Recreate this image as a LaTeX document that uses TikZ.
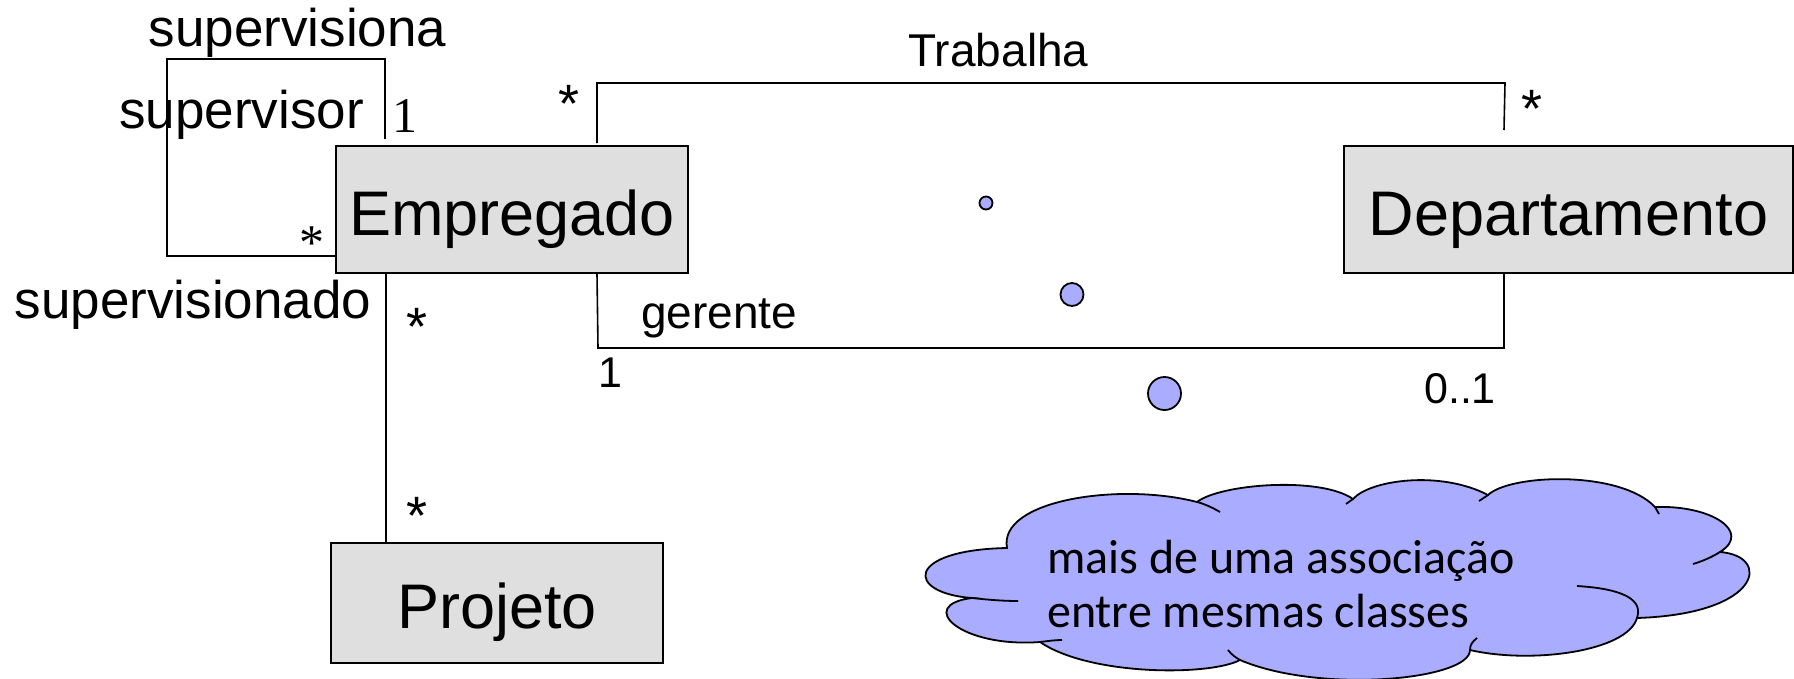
\documentclass[tikz,border=0pt]{standalone}
\usepackage{fontspec}
\setmainfont{Liberation Sans}
\newfontfamily\timesfont{Liberation Serif}
\newfontfamily\calibrifont{Carlito}
\definecolor{boxgray}{RGB}{223,223,223}
\definecolor{bubble}{RGB}{170,172,255}

\begin{document}
\begin{tikzpicture}[x=1pt,y=-1pt,
    classbox/.style={draw, line width=2pt, fill=boxgray, inner sep=0pt,
      font=\fontsize{63}{70}\selectfont},
    role/.style={inner sep=0pt, anchor=base, font=\fontsize{53}{60}\selectfont},
    assoc/.style={inner sep=0pt, anchor=base, font=\fontsize{46}{52}\selectfont},
    mult/.style={inner sep=0pt, anchor=base, font=\fontsize{43}{50}\selectfont},
    star/.style={inner sep=0pt, anchor=north, font=\fontsize{54}{60}\selectfont},
    serifmult/.style={inner sep=0pt, font=\timesfont\fontsize{50}{56}\selectfont},
    link/.style={line width=1.6pt},
    bubbleline/.style={line width=1.8pt}]
    \useasboundingbox (0,0) rectangle (1794,678);

    % classes
    \node[classbox, minimum width=352pt, text height=89pt, text depth=38pt] (emp) at (512,209.5) {Empregado};
    \node[classbox, minimum width=449pt, text height=89pt, text depth=38pt] (dep) at (1568.5,209.5) {Departamento};
    \node[classbox, minimum width=332pt, text height=85pt, text depth=35pt] (proj) at (497,603) {Projeto};

    % supervisao (auto-associacao)
    \coordinate (loopcorner) at (167,59);
    \draw[link] ([xshift=50pt,yshift=6pt]emp.north west) |- (loopcorner)
      |- ([yshift=18pt]emp.south west);
    \node[role] (supna) at (297.5,46) {supervisiona};
    \node[role] (supor) at (241.5,128) {supervisor};
    \node[role] (supdo) at (193,318) {supervisionado};
    \node[serifmult, anchor=base] (supone) at (405,132) {1};
    \node[serifmult, anchor=north] (supmany) at (312,227) {*};

    % trabalha
    \coordinate (trabcorner) at (1505,83);
    \draw[link] ([xshift=262pt,yshift=2pt]emp.north west) |- (trabcorner)
      -- ([xshift=161pt,yshift=15pt]dep.north west);
    \node[assoc] (trab) at (998.5,66) {Trabalha};
    \node[star] (trabemp) at (569,85) {*};
    \node[star] (trabdep) at (1532,90) {*};

    % gerente
    \coordinate (gercorner) at (598,348);
    \draw[link] ([xshift=262pt]emp.south west) -- (gercorner)
      -| ([xshift=161pt]dep.south west);
    \node[assoc] (ger) at (719,328) {gerente};
    \node[mult] (gerone) at (610,387) {1};
    \node[mult] (gerdep) at (1460,403) {0..1};

    % projeto
    \draw[link] ([xshift=51pt,yshift=2pt]emp.south west) -- ([xshift=56pt]proj.north west);
    \node[star] (projemp) at (417,308) {*};
    \node[star] (projproj) at (417,497) {*};

    % bolhas
    \filldraw[bubbleline, fill=bubble] (986,203) circle (6.5);
    \filldraw[bubbleline, fill=bubble] (1072,294.5) circle (11.5);
    \filldraw[bubbleline, fill=bubble] (1164.5,393.5) circle (16.5);

    % nuvem
    \filldraw[bubbleline, fill=bubble] (1007,548)
      .. controls (998,500) and (1120,482) .. (1197,502)
      .. controls (1220,484) and (1320,476) .. (1353,499)
      .. controls (1370,480) and (1440,470) .. (1488,495)
      .. controls (1510,474) and (1620,470) .. (1655,507)
      .. controls (1712,505) and (1752,532) .. (1720,552)
      .. controls (1772,556) and (1762,614) .. (1637,618)
      .. controls (1627,652) and (1530,664) .. (1470,650)
      .. controls (1470,680) and (1320,694) .. (1240,660)
      .. controls (1210,676) and (1090,676) .. (1040,642)
      .. controls (960,648) and (915,605) .. (972,598)
      .. controls (905,593) and (905,550) .. (1007,548) -- cycle;
    \draw[bubbleline] (972,598) .. controls (990,600) and (1005,601) .. (1018,601);
    \draw[bubbleline] (1040,642) .. controls (1048,641) and (1055,640) .. (1062,640);
    \draw[bubbleline] (1240,660) .. controls (1235,657) and (1232,655) .. (1228,650);
    \draw[bubbleline] (1470,650) .. controls (1470,645) and (1472,642) .. (1477,638);
    \draw[bubbleline] (1637,618) .. controls (1645,595) and (1610,588) .. (1577,586);
    \draw[bubbleline] (1720,552) .. controls (1712,557) and (1703,561) .. (1693,564);
    \draw[bubbleline] (1655,507) -- (1659,514);
    \draw[bubbleline] (1488,495) -- (1479,501);
    \draw[bubbleline] (1353,499) -- (1346,504);
    \draw[bubbleline] (1197,502) .. controls (1205,504) and (1213,508) .. (1220,512);
    \node[anchor=base west, align=left, inner sep=0pt,
      font=\calibrifont\fontsize{48}{54}\selectfont] (note) at (1047,627)
      {mais de uma associação\\entre mesmas classes};
  \end{tikzpicture}
\end{document}
